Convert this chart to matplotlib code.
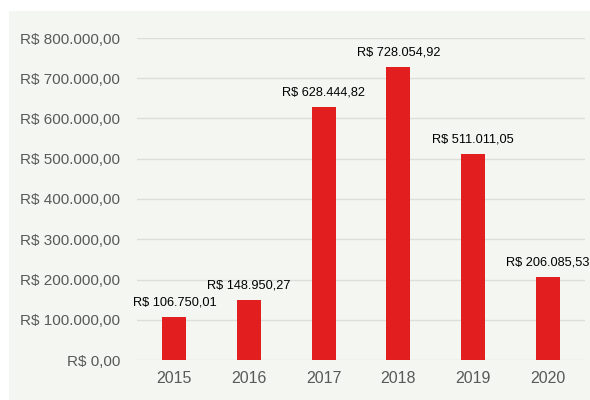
import matplotlib.pyplot as plt
from matplotlib.patches import Rectangle

years = ["2015", "2016", "2017", "2018", "2019", "2020"]
values = [106750.01, 148950.27, 628444.82, 728054.92, 511011.05, 206085.53]
yticks = [0, 100000, 200000, 300000, 400000, 500000, 600000, 700000, 800000]


def brl(v):
    s = f"{v:,.2f}".replace(",", "X").replace(".", ",").replace("X", ".")
    return "R$ " + s


fig = plt.figure(figsize=(5.9, 4.0), dpi=100)
fig.patch.set_facecolor("white")
fig.patches.append(Rectangle((9 / 590, 0), 1 - 9 / 590, 1 - 11 / 400,
                             transform=fig.transFigure, facecolor="#f3f6f1",
                             edgecolor="none", zorder=-10))

ax = fig.add_axes([137 / 590, 0.1, (585 - 137) / 590, 0.805])
ax.set_facecolor("none")

x = range(len(years))
bars = ax.bar(x, values, width=0.32, color="#e31e1e", zorder=3)
for xi, v in zip(x, values):
    ax.annotate(brl(v), (xi, v), xytext=(0, 6), textcoords="offset points",
                ha="center", va="bottom", fontsize=9.2,
                family="Liberation Sans", color="black", clip_on=False)

ax.set_xlim(-0.5, len(years) - 0.5)
ax.set_ylim(0, 800000)
ax.set_yticks(yticks)
ax.set_yticklabels([brl(t) for t in yticks], fontsize=11,
                   family="Liberation Sans", color="#595959")
ax.set_xticks(list(x))
ax.set_xticklabels(years, fontsize=11.5, family="Liberation Sans",
                   color="#595959")
ax.tick_params(length=0, pad=12)
ax.tick_params(axis="x", pad=8)
ax.grid(axis="y", color="#dcdedb", linewidth=1, zorder=0)
for s in ax.spines.values():
    s.set_visible(False)

fig.savefig("out.png", dpi=100)
